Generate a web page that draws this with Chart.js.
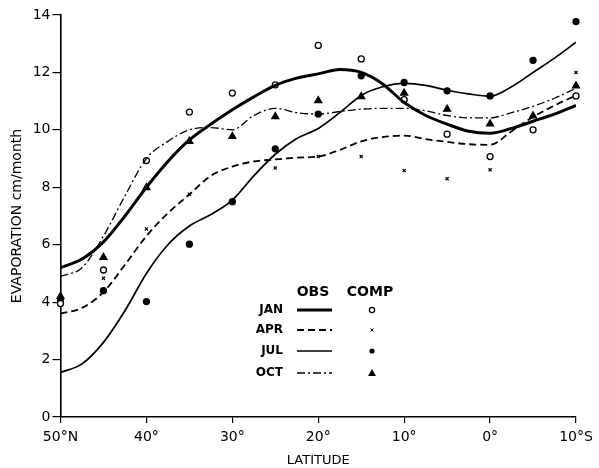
<!DOCTYPE html>
<html>
<head>
<meta charset="utf-8">
<script src="https://cdn.jsdelivr.net/npm/chart.js@4"></script>
<style>
  html, body { margin: 0; padding: 0; background: #fff; }
  #wrap { width: 599px; height: 468px; position: relative; }
</style>
</head>
<body>
<div id="wrap"><canvas id="evapChart"></canvas></div>
<script>
/* Dados: curvas observadas (OBS) lidas a cada 2.5 graus */
const curveLat = [50, 47.5, 45, 42.5, 40, 37.5, 35, 32.5, 30, 27.5, 25, 22.5, 20, 17.5, 15, 12.5, 10, 7.5, 5, 2.5, 0, -2.5, -5, -7.5, -10];
const janObs = [5.2, 5.5, 6.1, 7.0, 8.0, 8.9, 9.65, 10.2, 10.7, 11.15, 11.55, 11.8, 11.95, 12.1, 12.0, 11.6, 10.95, 10.5, 10.2, 9.95, 9.88, 10.05, 10.3, 10.55, 10.85];
const aprObs = [3.6, 3.8, 4.35, 5.3, 6.3, 7.1, 7.75, 8.4, 8.72, 8.9, 8.97, 9.03, 9.07, 9.3, 9.6, 9.75, 9.8, 9.68, 9.58, 9.5, 9.48, 9.95, 10.45, 10.85, 11.2];
const julObs = [1.55, 1.85, 2.6, 3.7, 5.0, 6.0, 6.65, 7.05, 7.55, 8.4, 9.15, 9.7, 10.05, 10.6, 11.2, 11.5, 11.62, 11.55, 11.38, 11.25, 11.17, 11.5, 12.0, 12.5, 13.05];
const octObs = [4.9, 5.2, 6.3, 7.7, 9.0, 9.6, 10.0, 10.08, 10.0, 10.5, 10.75, 10.6, 10.55, 10.64, 10.72, 10.75, 10.75, 10.66, 10.5, 10.42, 10.42, 10.6, 10.82, 11.1, 11.45];

/* pontos calculados (COMP) a cada 5 graus */
const pointLat = [50, 45, 40, 35, 30, 25, 20, 15, 10, 5, 0, -5, -10];
const janComp = [3.95, 5.12, 8.93, 10.62, 11.28, 11.57, 12.94, 12.47, 11.05, 9.85, 9.07, 10.0, 11.18];
const aprComp = [4.1, 4.83, 6.55, 7.76, 7.5, 8.67, 9.07, 9.07, 8.58, 8.3, 8.61, 9.95, 12.0];
const julComp = [4.05, 4.4, 4.02, 6.02, 7.5, 9.34, 10.55, 11.88, 11.65, 11.36, 11.18, 12.42, 13.77];
const octComp = [4.2, 5.56, 7.99, 9.6, 9.77, 10.46, 11.02, 11.16, 11.28, 10.72, 10.21, 10.49, 11.53];

const xTicks = [50, 40, 30, 20, 10, 0, -10];
const yTicks = [0, 2, 4, 6, 8, 10, 12, 14];

const FONT = "'DejaVu Sans', 'Open Sans', sans-serif";

function pares(xs, ys) {
  return xs.map((x, i) => ({x: x, y: ys[i]}));
}

function curva(label, valores, largura, tracos) {
  return {
    type: 'line',
    label: label,
    data: pares(curveLat, valores),
    borderColor: '#000',
    borderWidth: largura,
    borderDash: tracos,
    pointRadius: 0,
    fill: false,
    cubicInterpolationMode: 'monotone'
  };
}

function pontos(label, valores, estilo, raio, cheio) {
  return {
    type: 'scatter',
    label: label,
    data: pares(pointLat, valores),
    pointStyle: estilo,
    pointRadius: raio,
    pointBorderColor: '#000',
    pointBackgroundColor: cheio ? '#000' : '#fff',
    pointBorderWidth: estilo === 'crossRot' ? 1.2 : 1.3,
    showLine: false,
    clip: false
  };
}

const estilos = {
  JAN: {w: 3, dash: [], mk: 'circle', r: 3, fill: false},
  APR: {w: 1.8, dash: [7, 4], mk: 'crossRot', r: 2.2, fill: false},
  JUL: {w: 1.7, dash: [], mk: 'circle', r: 3, fill: true},
  OCT: {w: 1.3, dash: [8, 3, 2, 3], mk: 'triangle', r: 4, fill: true}
};

/* legenda desenhada dentro do grafico */
const legendaObsComp = {
  id: 'legendaObsComp',
  afterDatasetsDraw(chart) {
    const ctx = chart.ctx;
    ctx.save();
    ctx.fillStyle = '#000';
    ctx.strokeStyle = '#000';
    ctx.textBaseline = 'middle';
    ctx.font = 'bold 14px ' + FONT;
    ctx.textAlign = 'center';
    ctx.fillText('OBS', 313, 292);
    ctx.fillText('COMP', 370, 292);
    const linhas = [['JAN', 310], ['APR', 330], ['JUL', 351], ['OCT', 373]];
    linhas.forEach(([nome, y]) => {
      const e = estilos[nome];
      ctx.font = 'bold 12px ' + FONT;
      ctx.textAlign = 'right';
      ctx.fillText(nome, 283, y);
      ctx.beginPath();
      ctx.lineWidth = e.w;
      ctx.setLineDash(e.dash);
      ctx.moveTo(297, y);
      ctx.lineTo(332, y);
      ctx.stroke();
      ctx.setLineDash([]);
      ctx.lineWidth = 1.3;
      const mx = 372;
      if (e.mk === 'circle') {
        ctx.beginPath();
        ctx.arc(mx, y, 2.6, 0, Math.PI * 2);
        if (e.fill) ctx.fill(); else ctx.stroke();
      } else if (e.mk === 'crossRot') {
        ctx.beginPath();
        ctx.lineWidth = 1;
        ctx.moveTo(mx - 1.6, y - 1.6); ctx.lineTo(mx + 1.6, y + 1.6);
        ctx.moveTo(mx + 1.6, y - 1.6); ctx.lineTo(mx - 1.6, y + 1.6);
        ctx.stroke();
      } else {
        ctx.beginPath();
        ctx.moveTo(mx, y - 4);
        ctx.lineTo(mx + 4, y + 3);
        ctx.lineTo(mx - 4, y + 3);
        ctx.closePath();
        ctx.fill();
      }
    });
    ctx.restore();
  }
};

document.addEventListener('DOMContentLoaded', () => {
  const ctx = document.getElementById('evapChart').getContext('2d');

  const chart = new Chart(ctx, {
    data: {
      datasets: [
        curva('JAN OBS', janObs, estilos.JAN.w, estilos.JAN.dash),
        curva('APR OBS', aprObs, estilos.APR.w, estilos.APR.dash),
        curva('JUL OBS', julObs, estilos.JUL.w, estilos.JUL.dash),
        curva('OCT OBS', octObs, estilos.OCT.w, estilos.OCT.dash),
        pontos('JAN COMP', janComp, 'circle', 3, false),
        pontos('APR COMP', aprComp, 'crossRot', 2.2, false),
        pontos('JUL COMP', julComp, 'circle', 3, true),
        pontos('OCT COMP', octComp, 'triangle', 4, true)
      ]
    },
    options: {
      responsive: true,
      maintainAspectRatio: false,
      animation: false,
      layout: {padding: {top: 15, right: 23, left: 0, bottom: 0}},
      scales: {
        x: {
          type: 'linear',
          min: -10,
          max: 50,
          reverse: true,
          afterBuildTicks: axis => { axis.ticks = xTicks.map(v => ({value: v})); },
          afterFit: axis => { axis.height = 51; },
          grid: {drawOnChartArea: false, drawTicks: true, tickLength: 6, color: '#000', lineWidth: 1.2},
          border: {display: true, color: '#000', width: 1.6},
          ticks: {
            color: '#000',
            padding: 6,
            maxRotation: 0,
            font: {family: FONT, size: 14},
            callback: v => v === 50 ? '50°N' : (v === -10 ? '10°S' : Math.abs(v) + '°')
          },
          title: {
            display: true,
            text: 'LATITUDE',
            color: '#000',
            padding: {top: 0, bottom: 0},
            font: {family: FONT, size: 13}
          }
        },
        y: {
          min: 0,
          max: 14,
          afterBuildTicks: axis => { axis.ticks = yTicks.map(v => ({value: v})); },
          afterFit: axis => { axis.width = 60.5; },
          grid: {drawOnChartArea: false, drawTicks: true, tickLength: 8, color: '#000', lineWidth: 1.2},
          border: {display: true, color: '#000', width: 1.6},
          ticks: {
            color: '#000',
            padding: 2,
            font: {family: FONT, size: 14}
          },
          title: {
            display: true,
            text: 'EVAPORATION cm/month',
            color: '#000',
            padding: {top: 9, bottom: 0},
            font: {family: FONT, size: 14}
          }
        }
      },
      plugins: {
        legend: {display: false},
        tooltip: {enabled: false}
      }
    },
    plugins: [legendaObsComp]
  });
});
</script>
</body>
</html>
